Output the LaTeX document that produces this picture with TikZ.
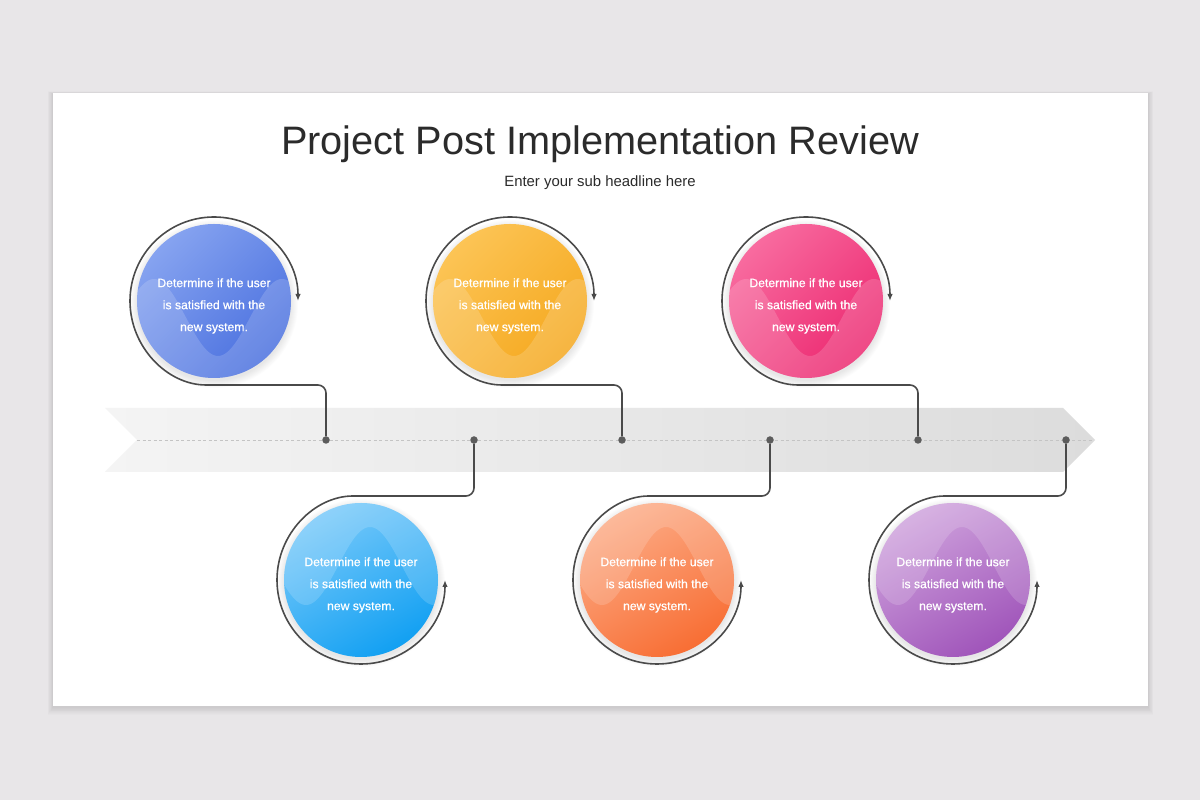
\documentclass[tikz,border=0pt]{standalone}
\usepackage{fontspec}
\setmainfont{Liberation Sans}
\newfontfamily\medfont[FakeBold=0.8]{Liberation Sans}
\usetikzlibrary{arrows.meta}
\definecolor{bg}{HTML}{E8E6E8}
\definecolor{titlec}{HTML}{2B2B2B}
\definecolor{bandL}{HTML}{F4F4F4}
\definecolor{bandR}{HTML}{DCDCDC}
\definecolor{dashc}{HTML}{C4C4C4}
\definecolor{linec}{HTML}{4A4A4A}
\definecolor{blueA}{HTML}{86A3F0}
\definecolor{blueB}{HTML}{4A70DF}
\definecolor{yelA}{HTML}{FCC455}
\definecolor{yelB}{HTML}{F5A81E}
\definecolor{pinkA}{HTML}{F86B9F}
\definecolor{pinkB}{HTML}{EC2870}
\definecolor{cyanA}{HTML}{78C9FA}
\definecolor{cyanB}{HTML}{12A0F2}
\definecolor{oraA}{HTML}{FCAC87}
\definecolor{oraB}{HTML}{F86E34}
\definecolor{purA}{HTML}{CFA3DD}
\definecolor{purB}{HTML}{A055BA}
\tikzset{
  ctext/.style={circle, inner sep=0pt, outer sep=0pt, minimum size=154pt, align=center,
    text=white, font=\medfont\fontsize{12.2}{22}\selectfont},
  conn/.style={draw=linec, line width=1.6pt, rounded corners=8pt,
    -{Latex[length=7pt,width=5.5pt]}},
  dotn/.style={circle, fill=linec!90!white, inner sep=0pt, outer sep=0pt, minimum size=7.5pt},
}
\begin{document}
\begin{tikzpicture}[x=1pt,y=1pt]
\useasboundingbox (0,0) rectangle (1200,800);
\fill[bg] (0,0) rectangle (1200,800);
% card shadow
\foreach \i in {1,...,9} {
  \fill[black,opacity=0.012] (53-\i*0.6,94-\i*0.9-1) rectangle (1148+\i*0.6,707+\i*0.3-1);
}
\fill[white] (53,94) rectangle (1148,707);
% title
\node[anchor=base, text=titlec, font=\fontsize{39.7}{44}\selectfont] (title) at (600,645) {Project Post Implementation Review};
\node[anchor=base, text=titlec, font=\fontsize{14.9}{18}\selectfont] (sub) at (600,613) {Enter your sub headline here};
% band
\shade[left color=bandL, right color=bandR] (105,392) -- (1063,392) -- (1095,360) -- (1063,328) -- (105,328) -- (137,360) -- cycle;
\draw[dashc, line width=0.7pt, dash pattern=on 3pt off 2.5pt] (137,360) -- (1092,360);
% top circles
\foreach \n/\cx/\ca/\cb in {1/214/blueA/blueB, 3/510/yelA/yelB, 5/806/pinkA/pinkB} {
  \foreach \k in {1,...,8} {\fill[black,opacity=0.01] (\cx,496) circle[radius=76+\k];}
  \shade[top color=\ca, bottom color=\cb, shading angle=45] (\cx,499) circle[radius=77];
  \begin{scope}
    \clip (\cx,499) circle[radius=77];
    \fill[white,opacity=0.16] plot[domain=-80:80,samples=80,smooth] ({\cx+\x},{499-16.5-38.5*cos(2.8125*(\x-4))}) -- (\cx+80,400) -- (\cx-80,400) -- cycle;
  \end{scope}
  \node[ctext] (c\n) at (\cx,494) {Determine if the user\\is satisfied with the\\new system.};
}
% bottom circles
\foreach \n/\cx/\ca/\cb in {2/361/cyanA/cyanB, 4/657/oraA/oraB, 6/953/purA/purB} {
  \foreach \k in {1,...,8} {\fill[black,opacity=0.01] (\cx,217) circle[radius=76+\k];}
  \shade[top color=\ca, bottom color=\cb, shading angle=30] (\cx,220) circle[radius=77];
  \begin{scope}
    \clip (\cx,220) circle[radius=77];
    \fill[white,opacity=0.16] plot[domain=-80:80,samples=80,smooth] ({\cx+\x},{220+14+39*cos(2.8125*(\x-9))}) -- (\cx+80,310) -- (\cx-80,310) -- cycle;
  \end{scope}
  \node[ctext] (c\n) at (\cx,215) {Determine if the user\\is satisfied with the\\new system.};
}
% dots
\node[dotn] (d1) at (326,360) {};
\node[dotn] (d2) at (474,360) {};
\node[dotn] (d3) at (622,360) {};
\node[dotn] (d4) at (770,360) {};
\node[dotn] (d5) at (918,360) {};
\node[dotn] (d6) at (1066,360) {};
% connectors
\foreach \a in {1,3,5} {
  \draw[conn] (d\a) |- ([yshift=-79pt]c\a.center) arc[start angle=270, end angle=0, radius=84];
}
\foreach \a in {2,4,6} {
  \draw[conn] (d\a) |- ([yshift=89pt]c\a.center) arc[start angle=90, end angle=360, radius=84];
}
\end{tikzpicture}
\end{document}
